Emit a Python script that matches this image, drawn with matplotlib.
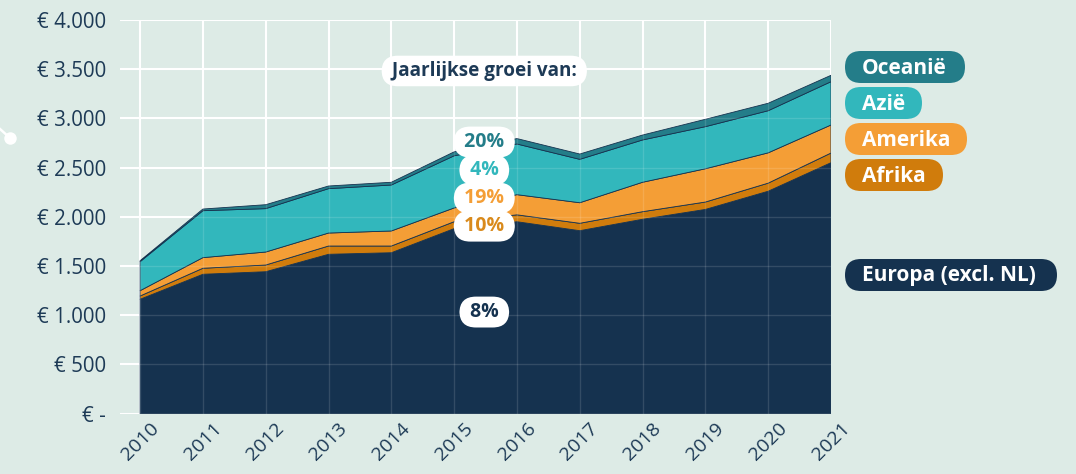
import matplotlib
matplotlib.use("Agg")
import matplotlib.pyplot as plt
from matplotlib.patches import FancyBboxPatch
from matplotlib.lines import Line2D
from matplotlib.transforms import IdentityTransform

plt.rcParams['font.family'] = ['Open Sans', 'DejaVu Sans']

years = [2010, 2011, 2012, 2013, 2014, 2015, 2016, 2017, 2018, 2019, 2020, 2021]
europa = [1162, 1416, 1442, 1619, 1635, 1880, 1950, 1859, 1975, 2075, 2260, 2550]
afrika = [33, 61, 68, 84, 68, 70, 70, 75, 77, 75, 82, 98]
amerika = [54, 108, 132, 132, 153, 140, 205, 209, 299, 338, 308, 285]
azie = [295, 477, 441, 451, 467, 530, 515, 441, 430, 428, 428, 440]
oceanie = [10, 17, 40, 27, 28, 40, 55, 54, 50, 75, 76, 65]

series_names = ["Europa (excl. NL)", "Afrika", "Amerika", "Azië", "Oceanië"]
growth = ["8%", "10%", "19%", "4%", "20%"]
yticks = [0, 500, 1000, 1500, 2000, 2500, 3000, 3500, 4000]
ytick_labels = ["€ -", "€ 500", "€ 1.000", "€ 1.500", "€ 2.000", "€ 2.500",
                "€ 3.000", "€ 3.500", "€ 4.000"]

C_EU = "#15324f"
C_AF = "#d07c0c"
C_AM = "#f49e36"
C_AZ = "#32b7bc"
C_OC = "#247d89"
BG = "#ddebe6"
TXT = "#1d3a56"
colors = [C_EU, C_AF, C_AM, C_AZ, C_OC]

W, H = 1076, 474
fig = plt.figure(figsize=(W / 100, H / 100), dpi=100, facecolor=BG)
ax = fig.add_axes([120 / W, 1 - 413.6 / H, (831 - 120) / W, (413.6 - 20) / H])
ax.set_facecolor(BG)

ax.stackplot(years, europa, afrika, amerika, azie, oceanie, colors=colors,
             linewidth=0.6, edgecolors=colors, zorder=2)

ax.set_xlim(2009.68, 2021)
ax.set_ylim(0, 4000)

# grid: solid behind, faint on top of areas
for y in yticks:
    ax.axhline(y, color="white", lw=1.5, zorder=0)
    ax.axhline(y, color="white", lw=1.0, alpha=0.13, zorder=3)
for x in years:
    ax.axvline(x, color="white", lw=1.5, zorder=0)
    ax.axvline(x, color="white", lw=1.0, alpha=0.13, zorder=3)

for s in ax.spines.values():
    s.set_visible(False)

ax.set_yticks(yticks)
ax.set_yticklabels(ytick_labels)
ax.set_xticks(years)
ax.set_xticklabels([str(y) for y in years], rotation=45, ha="center", va="top")
ax.tick_params(axis="y", length=0, pad=10, labelsize=14.8, labelcolor=TXT)
ax.tick_params(axis="x", length=0, pad=4, labelsize=14, labelcolor=TXT)

# annotation labels (white pills, coloured text)
xc = 2015.48
ann = [("Jaarlijkse groei van:", 3482, TXT),
       (growth[4], 2760, C_OC),
       (growth[3], 2475, C_AZ),
       (growth[2], 2190, C_AM),
       (growth[1], 1905, "#d98a1c"),
       (growth[0], 1032, C_EU)]
for i, (t, yv, c) in enumerate(ann):
    padtxt = " " + t + " "
    ax.text(xc, yv, padtxt, ha="center", va="center", fontsize=14 if i else 13.6,
            fontweight="bold", color=c, zorder=5,
            bbox=dict(boxstyle="round,pad=0.28,rounding_size=0.85", fc="white", ec="none"))

# legend pills on the right (pixel coords, top-origin)
def pill(x0, y0, x1, y1, color, text):
    r = (y1 - y0) / 2
    p = FancyBboxPatch((x0, H - y1), (x1 - x0), (y1 - y0),
                       boxstyle="round,pad=0,rounding_size=%f" % r,
                       transform=IdentityTransform(), fc=color, ec="none")
    fig.add_artist(p)
    fig.text((x0 + 17) / W, 1 - ((y0 + y1) / 2 + 1) / H, text, ha="left", va="center",
             fontsize=15, fontweight="bold", color="white")

pill(845, 51, 965, 83, C_OC, series_names[4])
pill(845, 87, 922, 119, C_AZ, series_names[3])
pill(845, 123, 967, 155, C_AM, series_names[2])
pill(845, 159, 943, 191, C_AF, series_names[1])
pill(845, 259, 1057, 291, C_EU, series_names[0])

# small white pointer at left
fig.add_artist(Line2D([0, 10], [H - 129, H - 138], transform=IdentityTransform(),
                      color="white", lw=1.8))
fig.add_artist(Line2D([10], [H - 138], transform=IdentityTransform(), marker="o",
                      ms=9, color="white", mec="none"))

fig.savefig("out.png", dpi=100, facecolor=BG)
